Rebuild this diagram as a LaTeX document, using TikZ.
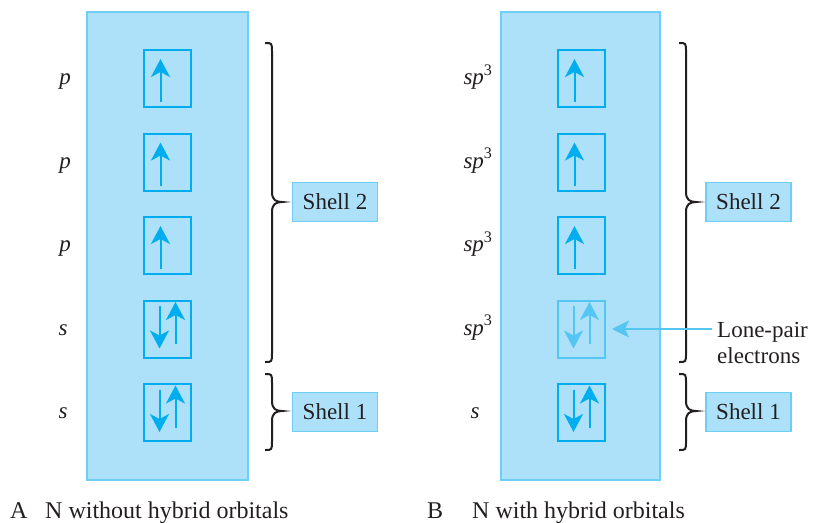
\documentclass[tikz,border=0pt]{standalone}
\usepackage{fontspec}
\setmainfont{Liberation Serif}
\usetikzlibrary{arrows.meta,calc}
\definecolor{panelfill}{HTML}{ADE1F9}
\definecolor{panelline}{HTML}{6DCFF6}
\definecolor{orb}{HTML}{00AEEF}
\definecolor{ink}{HTML}{231F20}
\definecolor{faded}{HTML}{55C6F2}
\newcommand\bracepath[4]{% x, top, bottom, tip
  \draw[bracestyle] ({#1-7},#2) .. controls (#1,#2) .. (#1,{#2+9})
    -- (#1,{#4-10}) .. controls (#1,{#4-2}) and ({#1+4},#4) .. ({#1+10},#4)
    .. controls ({#1+4},#4) and (#1,{#4+2}) .. (#1,{#4+10})
    -- (#1,{#3-9}) .. controls (#1,#3) .. ({#1-7},#3);}
\begin{document}
\begin{tikzpicture}[x=1pt,y=-1pt,
  panel/.style={draw=panelline, fill=panelfill, line width=2pt},
  orbbox/.style={draw=#1, line width=2pt, minimum width=47pt, minimum height=57pt, inner sep=0pt},
  orbbox/.default=orb,
  elec/.style={draw=#1, line width=2pt, -{Stealth[length=18pt,width=19pt,inset=5pt,fill=#1]}},
  elec/.default=orb,
  shellbox/.style={draw=panelline, fill=panelfill, line width=1.5pt, minimum width=85pt, minimum height=39pt, inner sep=0pt, font=\fontsize{23}{27}\selectfont, text=ink},
  lbl/.style={font=\fontsize{23}{27}\selectfont, text=ink, anchor=base, inner sep=0pt},
  captext/.style={font=\fontsize{24}{28}\selectfont, text=ink, anchor=base west, inner sep=0pt},
  bracestyle/.style={draw=ink, line width=2pt},
  lonearrow/.style={draw=faded, line width=2pt, -{Stealth[length=17pt,width=17pt,inset=4pt]}},
]
\useasboundingbox (0,0) rectangle (813,522);
% panels
\draw[panel] (87,12) rectangle (248,480);
\draw[panel] (501,12) rectangle (660,480);

% orbital boxes
\foreach \i/\y in {1/78.5,2/162,3/245.5,5/412.5}{
  \node[orbbox] (a\i) at (167.5,\y) {};
  \node[orbbox] (b\i) at (581.5,\y) {};
}
\node[orbbox] (a4) at (167.5,329) {};
\node[orbbox=faded] (b4) at (581.5,329) {};

% single up arrows
\foreach \n in {a1,a2,a3,b1,b2,b3}{
  \draw[elec] ($(\n.center)+(-7,23.5)$) -- ($(\n.center)+(-7,-19.5)$);
}
% paired arrows
\foreach \n in {a4,a5,b5}{
  \draw[elec] ($(\n.center)+(-8,-23)$) -- ($(\n.center)+(-8,19.5)$);
  \draw[elec] ($(\n.center)+(8,15)$) -- ($(\n.center)+(8,-27)$);
}
\draw[elec=faded] ($(b4.center)+(-8,-23)$) -- ($(b4.center)+(-8,19.5)$);
\draw[elec=faded] ($(b4.center)+(8,15)$) -- ($(b4.center)+(8,-27)$);

% labels A
\node[lbl] (la1) at (65,84.5) {\textit{p}};
\node[lbl] (la2) at (65,168) {\textit{p}};
\node[lbl] (la3) at (65,251.5) {\textit{p}};
\node[lbl] (la4) at (63,335) {\textit{s}};
\node[lbl] (la5) at (63,418.5) {\textit{s}};
% labels B
\node[lbl] (lb1) at (478,84.5) {\textit{sp}\textsuperscript{3}};
\node[lbl] (lb2) at (478,168) {\textit{sp}\textsuperscript{3}};
\node[lbl] (lb3) at (478,251.5) {\textit{sp}\textsuperscript{3}};
\node[lbl] (lb4) at (478,335) {\textit{sp}\textsuperscript{3}};
\node[lbl] (lb5) at (475,418.5) {\textit{s}};

% braces
\bracepath{272}{43}{362}{202}
\bracepath{272}{374}{450}{411}
\bracepath{686}{43}{362}{202}
\bracepath{686}{374}{450}{411}

% shell boxes
\node[shellbox] (sa2) at (335,202) {Shell 2};
\node[shellbox] (sa1) at (335,412) {Shell 1};
\node[shellbox] (sb2) at (748.5,202) {Shell 2};
\node[shellbox] (sb1) at (748.5,412) {Shell 1};

% lone pair
\node[font=\fontsize{23}{26}\selectfont, text=ink, align=left, anchor=west, inner sep=0pt] (lp) at (717,343) {Lone-pair\\electrons};
\draw[lonearrow] ([xshift=-5pt]lp.west |- b4.center) -- ([xshift=6pt]b4.east);

% captions
\node[captext] (ca) at (10,518) {A};
\node[captext] (cat) at (45,518) {N without hybrid orbitals};
\node[captext] (cb) at (427,518) {B};
\node[captext] (cbt) at (472,518) {N with hybrid orbitals};
\end{tikzpicture}
\end{document}
